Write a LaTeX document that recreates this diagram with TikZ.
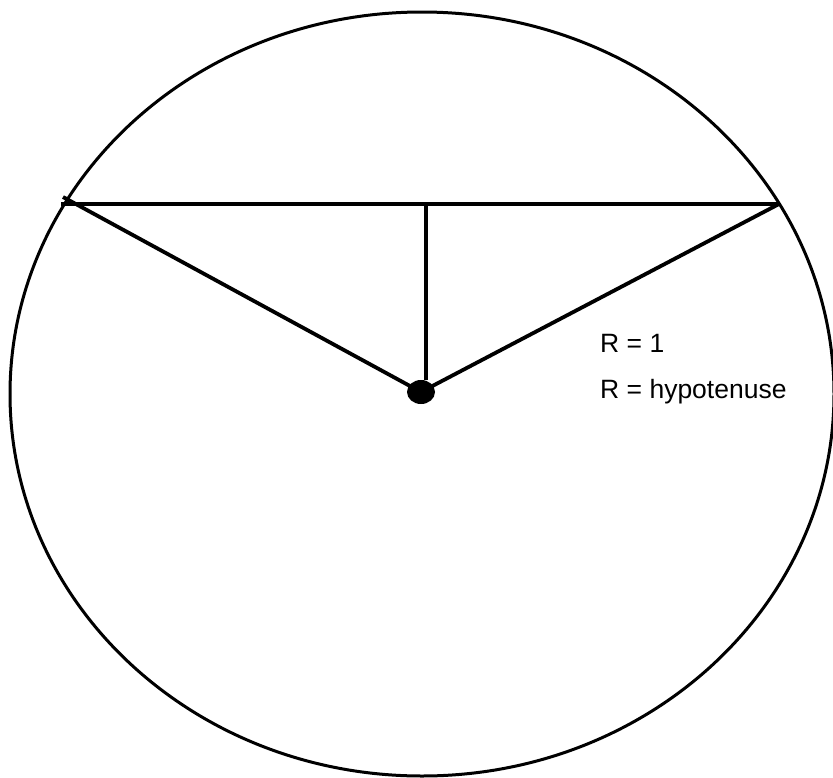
\documentclass[tikz,border=0pt]{standalone}
\usepackage{fontspec}
\setmainfont{Liberation Sans}
\usetikzlibrary{shapes.geometric}
\begin{document}
\begin{tikzpicture}[x=1pt,y=-1pt,
  thickline/.style={line width=3.8pt},
  rim/.style={line width=3pt},
  label/.style={anchor=base west,inner sep=0pt,font=\fontsize{26.5}{30}\selectfont}]
\useasboundingbox (0,0) rectangle (833,777);
\draw[rim] (422,394) ellipse [x radius=412, y radius=382];
\coordinate (L) at (61,204);
\coordinate (Ltip) at (63,197);
\coordinate (Rt) at (779,204);
\coordinate (M) at (426,204);
\node[ellipse,fill=black,minimum width=28pt,minimum height=24pt,inner sep=0pt] (O) at (421,392) {};
\draw[thickline] (L) -- (Rt);
\draw[thickline] (Ltip) -- (O.center);
\draw[thickline] (Rt) -- (O.center);
\draw[thickline] (M) -- (M |- O.north);
\node[label] (t1) at (600,352) {R = 1};
\node[label] (t2) at (600,398) {R = hypotenuse};
\end{tikzpicture}
\end{document}
